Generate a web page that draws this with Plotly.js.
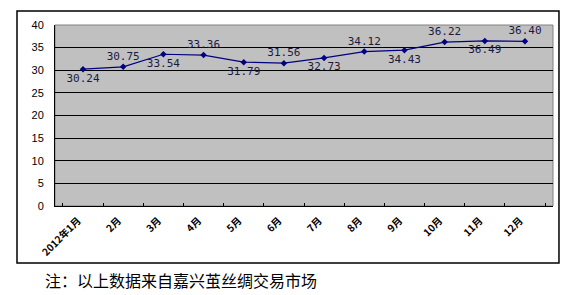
<!DOCTYPE html>
<html>
<head>
<meta charset="utf-8">
<script src="https://cdn.plot.ly/plotly-3.0.1.min.js"></script>
<style>
html,body{margin:0;padding:0;background:#fff;}
#chart{width:580px;height:295px;}
</style>
</head>
<body>
<div id="chart"></div>
<script>
var months = ["2012年1月","2月","3月","4月","5月","6月","7月","8月","9月","10月","11月","12月"];
var prices = [30.24, 30.75, 33.54, 33.36, 31.79, 31.56, 32.73, 34.12, 34.43, 36.22, 36.49, 36.40];
var labelPos = ["bottom center","top center","bottom center","top center","bottom center","top center",
                "bottom center","top center","bottom center","top center","bottom center","top center"];
var yTicks = [0,5,10,15,20,25,30,35,40];
var note = "注：以上数据来自嘉兴茧丝绸交易市场";

var trace = {
  x: months,
  y: prices,
  type: "scatter",
  mode: "lines+markers+text",
  line: {color: "#000080", width: 1.2},
  marker: {color: "#000080", size: 5, symbol: "diamond"},
  text: prices.map(function(v){return v.toFixed(2);}),
  textposition: labelPos,
  textfont: {family: "DejaVu Sans Mono, monospace", size: 11, color: "#1a1a40"},
  cliponaxis: false,
  hoverinfo: "none"
};

var layout = {
  width: 580,
  height: 295,
  margin: {l: 55, r: 27, t: 25, b: 89},
  paper_bgcolor: "#ffffff",
  plot_bgcolor: "#c0c0c0",
  showlegend: false,
  font: {family: "Liberation Sans, Arial, sans-serif", color: "#000"},
  xaxis: {
    type: "category",
    tickangle: -45,
    tickson: "boundaries",
    ticks: "inside",
    ticklen: 3,
    tickcolor: "#000",
    showline: true,
    linecolor: "#000",
    linewidth: 1,
    showgrid: false,
    ticklabelstandoff: 4,
    ticklabelshift: -5,
    tickfont: {family: "Noto Sans CJK SC, sans-serif", size: 10, color: "#000", weight: "bold"},
    fixedrange: true
  },
  yaxis: {
    range: [0, 40],
    tickvals: yTicks,
    ticktext: yTicks.map(String),
    showgrid: true,
    gridcolor: "#000",
    gridwidth: 1,
    zeroline: false,
    showline: true,
    linecolor: "#000",
    linewidth: 1,
    ticks: "",
    ticklabelstandoff: 8,
    tickfont: {family: "Liberation Sans, Arial, sans-serif", size: 11, color: "#000"},
    fixedrange: true
  },
  shapes: [
    {type: "rect", xref: "paper", yref: "paper", x0: -0.0763, x1: 1.012, y0: -0.315, y1: 1.077,
     line: {color: "#000", width: 1.5}, fillcolor: "rgba(0,0,0,0)", layer: "below"},
    {type: "rect", xref: "paper", yref: "paper", x0: 0, x1: 1, y0: 0, y1: 1,
     line: {color: "#808080", width: 1}, fillcolor: "rgba(0,0,0,0)", layer: "below"}
  ],
  annotations: [
    {text: note, xref: "paper", yref: "paper", x: -0.024, y: -0.409, xanchor: "left", yanchor: "middle",
     showarrow: false, font: {family: "Noto Sans CJK SC, sans-serif", size: 16, color: "#000"}}
  ]
};

Plotly.newPlot("chart", [trace], layout, {displayModeBar: false, staticPlot: true});
</script>
</body>
</html>
